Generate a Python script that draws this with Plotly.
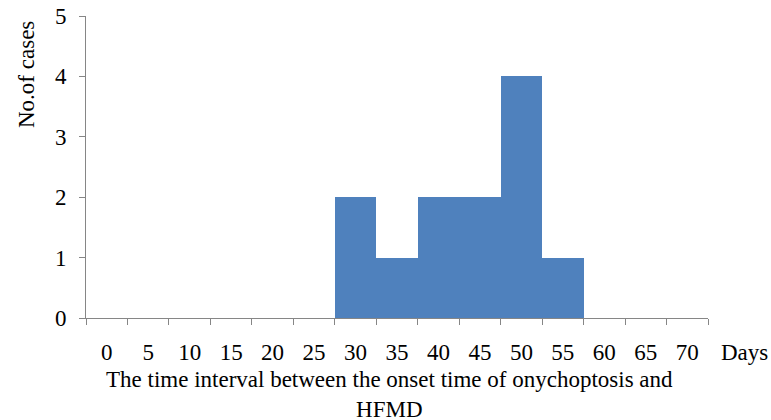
import plotly.graph_objects as go

categories = ["0", "5", "10", "15", "20", "25", "30", "35", "40", "45", "50", "55", "60", "65", "70"]
cases = [0, 0, 0, 0, 0, 0, 2, 1, 2, 2, 4, 1, 0, 0, 0]
y_ticks = [0, 1, 2, 3, 4, 5]

FONT = "Liberation Serif"
FS = 23
AXIS_COLOR = "#868686"

W, H = 771, 420
L, R, T, B = 86, 708, 16, 318
PW, PH = R - L, B - T

fig = go.Figure(go.Bar(x=categories, y=cases, marker=dict(color="#4F81BD", line=dict(width=0)),
                       width=1.0))

fig.update_layout(
    width=W, height=H,
    margin=dict(l=L, r=W - R, t=T, b=H - B),
    paper_bgcolor="white", plot_bgcolor="white",
    bargap=0, showlegend=False,
    font=dict(family=FONT, size=FS, color="#000000"),
)
fig.update_xaxes(
    type="category", tickson="boundaries", ticks="outside", ticklen=6, tickcolor=AXIS_COLOR,
    showline=True, linecolor=AXIS_COLOR, linewidth=1, showgrid=False, automargin=False,
    range=[-0.5, 14.5], ticklabelstandoff=13, ticklabeloverflow="allow",
    tickfont=dict(family=FONT, size=FS),
)
fig.update_yaxes(
    range=[0, 5], tickvals=y_ticks, ticks="outside", ticklen=6, tickcolor=AXIS_COLOR,
    showline=True, linecolor=AXIS_COLOR, linewidth=1, showgrid=False, zeroline=False,
    automargin=False, ticklabelstandoff=8, ticklabeloverflow="allow",
    tickfont=dict(family=FONT, size=FS),
)
fig.add_annotation(text="Days", xref="paper", yref="paper", x=(744 - L) / PW,
                   y=-(352 - B) / PH, xanchor="center", yanchor="middle",
                   showarrow=False, font=dict(family=FONT, size=FS))
fig.add_annotation(text="The time interval between the onset time of onychoptosis and<br>HFMD",
                   xref="paper", yref="paper", x=(389 - L) / PW, y=-(394 - B) / PH,
                   xanchor="center", yanchor="middle", showarrow=False,
                   font=dict(family=FONT, size=FS))
fig.add_annotation(text="No.of cases", xref="paper", yref="paper", x=-(L - 26) / PW,
                   y=(B - 75) / PH, textangle=-90, xanchor="center", yanchor="middle",
                   showarrow=False, font=dict(family=FONT, size=FS))

# remove the browser's default 8px body margin so the figure fills the window
fig.write_html("out.html", config={"displayModeBar": False},
               post_script="document.body.style.margin='0';document.body.style.overflow='hidden';")
